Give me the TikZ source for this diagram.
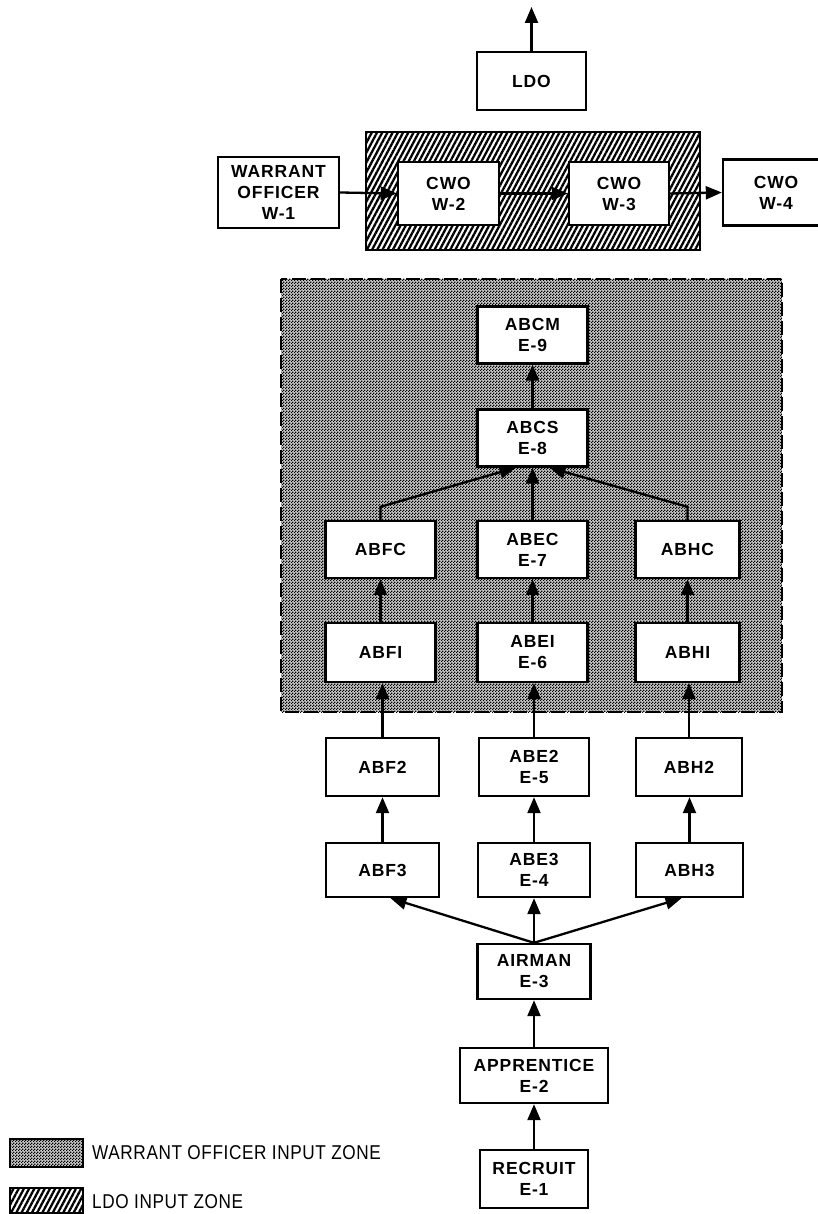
\documentclass[tikz,border=0pt]{standalone}
\usepackage{fontspec}
\setmainfont{Liberation Sans}
\newfontfamily\boxfont{Liberation Sans}[LetterSpace=5]
\newfontfamily\legfont{Liberation Sans}[LetterSpace=3,FakeStretch=0.86]
\usetikzlibrary{arrows.meta,patterns,patterns.meta}
\pgfdeclarepatternformonly{finechecker}{\pgfqpoint{0pt}{0pt}}{\pgfqpoint{3pt}{3pt}}{\pgfqpoint{3pt}{3pt}}{%
  \pgfpathrectangle{\pgfqpoint{0pt}{0pt}}{\pgfqpoint{1.5pt}{1.5pt}}%
  \pgfpathrectangle{\pgfqpoint{1.5pt}{1.5pt}}{\pgfqpoint{1.5pt}{1.5pt}}%
  \pgfusepath{fill}}
\tikzset{
  box/.style={draw, line width=2.4pt, fill=white, minimum width=110pt, minimum height=57pt,
    align=center, inner sep=0pt, font=\boxfont\bfseries\fontsize{17.5}{21}\selectfont},
  arr/.style={line width=2.3pt, -{Triangle[length=16pt,width=13pt]}},
  wozone/.style={preaction={fill=black!22}, pattern=finechecker},
  ldozone/.style={preaction={fill=white}, pattern={Lines[angle=62,distance=4.6pt,line width=2.3pt]}},
  legtext/.style={anchor=west, inner sep=0pt, font=\legfont\fontsize{20}{22}\selectfont},
}
\begin{document}
\begin{tikzpicture}[x=1pt,y=-1pt]
\fill[white] (0,0) rectangle (817,1214);
\useasboundingbox (0,0) rectangle (817,1214);

% zones
\path[ldozone, draw, line width=1.5pt] (366,132) rectangle (700,250);
\path[wozone, draw, line width=2.4pt, dash pattern=on 14pt off 5pt] (281,279) rectangle (782,712);

% top row
\node[box, minimum width=109pt, minimum height=58pt] (LDO) at (531.5,81) {LDO};
\coordinate (top) at (531.5,7);
\node[box, minimum width=121pt, minimum height=71pt] (W1) at (278.5,192.5) {WARRANT\\OFFICER\\W-1};
\node[box, minimum width=101pt, minimum height=63pt] (W2) at (448.5,193.5) {CWO\\W-2};
\node[box, minimum width=100pt, minimum height=63pt] (W3) at (619,193.5) {CWO\\W-3};
\node[box, minimum width=106pt, minimum height=66pt] (W4) at (776,192.5) {CWO\\W-4};

% warrant officer zone boxes
\node[box] (ABCM) at (532.5,335) {ABCM\\E-9};
\node[box] (ABCS) at (532.5,438) {ABCS\\E-8};
\node[box] (ABFC) at (380.5,549.5) {ABFC};
\node[box] (ABEC) at (532.5,549.5) {ABEC\\E-7};
\node[box, minimum width=104pt] (ABHC) at (687.5,549.5) {ABHC};
\node[box, minimum height=59pt] (ABFI) at (380.5,652.5) {ABFI};
\node[box, minimum height=59pt] (ABEI) at (532.5,652.5) {ABEI\\E-6};
\node[box, minimum width=104pt, minimum height=59pt] (ABHI) at (687.5,652.5) {ABHI};

% lower rows
\node[box, minimum width=113pt, minimum height=58pt] (ABF2) at (382.5,767) {ABF2};
\node[box, minimum height=58pt] (ABE2) at (534,767) {ABE2\\E-5};
\node[box, minimum width=106pt, minimum height=58pt] (ABH2) at (689,767) {ABH2};
\node[box, minimum width=113pt, minimum height=54pt] (ABF3) at (382.5,870) {ABF3};
\node[box, minimum width=112pt, minimum height=54pt] (ABE3) at (534,870) {ABE3\\E-4};
\node[box, minimum width=107pt, minimum height=54pt] (ABH3) at (689.5,870) {ABH3};
\node[box, minimum width=113pt, minimum height=55pt] (AIR) at (534,971.5) {AIRMAN\\E-3};
\node[box, minimum width=148pt, minimum height=55pt] (APP) at (534,1075.5) {APPRENTICE\\E-2};
\node[box, minimum width=108pt, minimum height=58pt] (REC) at (534,1179) {RECRUIT\\E-1};

% connectors
\draw[arr] (LDO.north) -- (top);
\draw[arr] (W1.east) -- (W2.west);
\draw[arr] (W2.east) -- (W3.west);
\draw[arr] (W3.east) -- (W4.west);

\draw[arr] (ABCS.north) -- (ABCM.south);
\draw[arr] (ABEC.north) -- (ABCS.south);
\draw[arr] (ABFC.north) -- ++(0,-13) -- ([xshift=-17pt]ABCS.south);
\draw[arr] (ABHC.north) -- ++(0,-13) -- ([xshift=17pt]ABCS.south);
\draw[arr] (ABFI.north) -- (ABFC.south);
\draw[arr] (ABEI.north) -- (ABEC.south);
\draw[arr] (ABHI.north) -- (ABHC.south);
\draw[arr] (ABF2.north) -- (ABF2.north |- ABFI.south);
\draw[arr] (ABE2.north) -- (ABE2.north |- ABEI.south);
\draw[arr] (ABH2.north) -- (ABH2.north |- ABHI.south);
\draw[arr] (ABF3.north) -- (ABF2.south);
\draw[arr] (ABE3.north) -- (ABE2.south);
\draw[arr] (ABH3.north) -- (ABH3.north |- ABH2.south);
\draw[arr] (AIR.north) -- ([xshift=8pt]ABF3.south);
\draw[arr] (AIR.north) -- (ABE3.south);
\draw[arr] (AIR.north) -- ([xshift=-8pt]ABH3.south);
\draw[arr] (APP.north) -- (AIR.south);
\draw[arr] (REC.north) -- (APP.south);

% legend
\node[wozone, draw, line width=2pt, minimum width=73pt, minimum height=28pt, inner sep=0pt] (lg1) at (46.5,1153) {};
\node[legtext] (lt1) at (92,1153) {WARRANT OFFICER INPUT ZONE};
\node[ldozone, draw, line width=2pt, minimum width=73pt, minimum height=25pt, inner sep=0pt] (lg2) at (46.5,1200.5) {};
\node[legtext] (lt2) at (92,1202) {LDO INPUT ZONE};
\end{tikzpicture}
\end{document}
